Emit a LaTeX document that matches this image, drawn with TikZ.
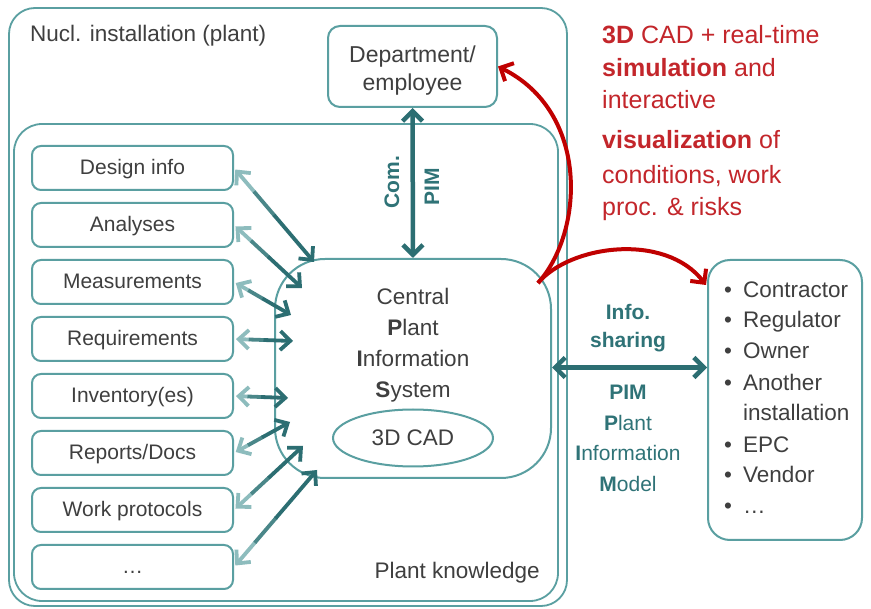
\documentclass[tikz,border=0pt]{standalone}
\usepackage{fontspec}
\setmainfont{Liberation Sans}
\usetikzlibrary{arrows.meta,shapes.geometric,calc}
\definecolor{tealbox}{HTML}{5A9FA1}
\definecolor{tealdark}{HTML}{2C6E72}
\definecolor{tealmid}{HTML}{4A8789}
\definecolor{teallight}{HTML}{8DBCBD}
\definecolor{tealtxt}{HTML}{2F7377}
\definecolor{txtgray}{HTML}{3F3F3F}
\definecolor{redarr}{HTML}{C00000}
\definecolor{redtxt}{HTML}{C3262B}
\newcommand\myfs[2]{\fontsize{#1}{#2}\selectfont}
\begin{document}
\begin{tikzpicture}[x=1pt,y=-1pt,
  frame/.style={draw=tealbox, line width=1.8, inner sep=0},
  lbl/.style={text=txtgray, font=\myfs{22.5}{27}, inner sep=0},
  leftbox/.style={draw=tealbox, line width=2, rounded corners=9, fill=white,
    text=txtgray, font=\myfs{21}{25}, minimum width=201, minimum height=44, inner sep=0,
    text height=19, text depth=5},
  bigarrow/.style={tealdark, line width=4.5, {Straight Barb[length=10,width=20]}-{Straight Barb[length=10,width=20]}},
  redarrow/.style={redarr, line width=4, -{Straight Barb[length=10,width=20]}},
  tealbold/.style={text=tealtxt, font=\bfseries\myfs{21}{25}, inner sep=0},
  tealplain/.style={text=tealtxt, font=\myfs{21}{25}, inner sep=0},
  redline/.style={text=redtxt, font=\myfs{25}{30}, inner sep=0, anchor=west, text height=18, text depth=5},
  listtxt/.style={text=txtgray, font=\myfs{22.5}{27}, inner sep=0, anchor=west, text height=16, text depth=5},
  bullet/.style={text=txtgray, font=\myfs{22.5}{27}, inner sep=0}
]
\useasboundingbox (0,0) rectangle (871,609);
\fill[white] (0,0) rectangle (871,609);

% frames
\node[frame, rounded corners=26, minimum width=558, minimum height=598] (plant) at (288,307) {};
\node[frame, rounded corners=28, minimum width=544, minimum height=477] (know) at (286,362.5) {};
\node[lbl, anchor=west] (nucl) at (30,36) {Nucl. installation (plant)};
\node[lbl, anchor=east] (pk) at (540,573) {Plant knowledge};

% department
\node[frame, line width=2, rounded corners=12, minimum width=169, minimum height=81] (dept) at (412.5,66.5) {};
\node[align=center, text=txtgray, font=\myfs{23}{28}, inner sep=0] (depttext) at (412.5,70.5) {Department/\\employee};

% central system
\node[frame, line width=2, rounded corners=50, minimum width=276, minimum height=219] (cpis) at (413,368.5) {};
\node[text=txtgray, font=\myfs{22.5}{31}, align=center, inner sep=0] (cpistext) at (413,345)
  {Central\\\textbf{P}lant\\\textbf{I}nformation\\\textbf{S}ystem};
\node[ellipse, draw=tealbox, line width=2, minimum width=160, minimum height=57, inner sep=0,
  text=txtgray, font=\myfs{22.5}{27}] (cad) at (413,438) {3D CAD};

% left boxes
\node[leftbox] (b0) at (132.5,168) {Design info};
\node[leftbox] (b1) at (132.5,225) {Analyses};
\node[leftbox] (b2) at (132.5,282) {Measurements};
\node[leftbox] (b3) at (132.5,339) {Requirements};
\node[leftbox] (b4) at (132.5,396) {Inventory(es)};
\node[leftbox] (b5) at (132.5,453) {Reports/Docs};
\node[leftbox] (b6) at (132.5,510) {Work protocols};
\node[leftbox] (b7) at (132.5,567) {\ldots};

% arrow targets on the central box
\coordinate (t0) at (314,262);
\coordinate (t1) at (302,288);
\coordinate (t2) at (291,315);
\coordinate (t3) at (293,341);
\coordinate (t4) at (288,398);
\coordinate (t5) at (290,422);
\coordinate (t6) at (303,446);
\coordinate (t7) at (317,470);

\foreach \i in {0,1,2,3,4,5,6,7} {
  \draw[teallight, line width=3.8, {Straight Barb[length=10,width=19]}-, shorten <=2]
    (b\i.east) -- ($(b\i.east)!0.26!(t\i)$);
  \draw[tealmid, line width=3.8] ($(b\i.east)!0.25!(t\i)$) -- ($(b\i.east)!0.51!(t\i)$);
  \draw[tealdark, line width=3.8, -{Straight Barb[length=10,width=19]}]
    ($(b\i.east)!0.5!(t\i)$) -- (t\i);
}

% Com. / PIM arrow
\draw[bigarrow] (dept.south) -- (cpis.north);
\node[tealbold, rotate=90] (com) at (392,182) {Com.};
\node[tealbold, rotate=90] (pimv) at (432,187) {PIM};

% external parties
\node[frame, line width=2, rounded corners=22, minimum width=154, minimum height=280] (ext) at (785,400) {};
\foreach \y in {292,322,353,385,447,477,508}
  \node[bullet] (bul\y) at (728,\y) {•};
\node[listtxt] (it1) at (743,292) {Contractor};
\node[listtxt] (it2) at (743,322) {Regulator};
\node[listtxt] (it3) at (743,353) {Owner};
\node[listtxt] (it4) at (743,385) {Another};
\node[listtxt] (it5) at (743,415) {installation};
\node[listtxt] (it6) at (743,447) {EPC};
\node[listtxt] (it7) at (743,477) {Vendor};
\node[listtxt] (it8) at (743,508) {\ldots};

% info sharing arrow
\draw[bigarrow] ($(cpis.east)+(0,-1)$) -- ($(cpis.east -| ext.west)+(0,-1)$);
\node[tealbold] (info) at (628,312) {Info.};
\node[tealbold] (shar) at (628,342) {sharing};
\node[tealbold] (pimh) at (628,392) {PIM};
\node[tealplain] (pl) at (628,423) {\textbf{P}lant};
\node[tealplain] (inf) at (628,453) {\textbf{I}nformation};
\node[tealplain] (mo) at (628,484) {\textbf{M}odel};

% red text
\node[redline] (r1) at (602,37) {\textbf{3D} CAD + real-time};
\node[redline] (r2) at (602,70) {\textbf{simulation} and};
\node[redline] (r3) at (602,102) {interactive};
\node[redline] (r4) at (602,142) {\textbf{visualization} of};
\node[redline] (r5) at (602,177) {conditions, work};
\node[redline] (r6) at (602,209) {proc. \& risks};

% red arrows
\coordinate (rs) at (538,283);
\coordinate (rt) at (706,285);
\draw[redarrow] (rs) .. controls (584,232) and (590,112) .. (dept.east);
\draw[redarrow] (rs) .. controls (570,245) and (665,232) .. (rt);
\end{tikzpicture}
\end{document}
